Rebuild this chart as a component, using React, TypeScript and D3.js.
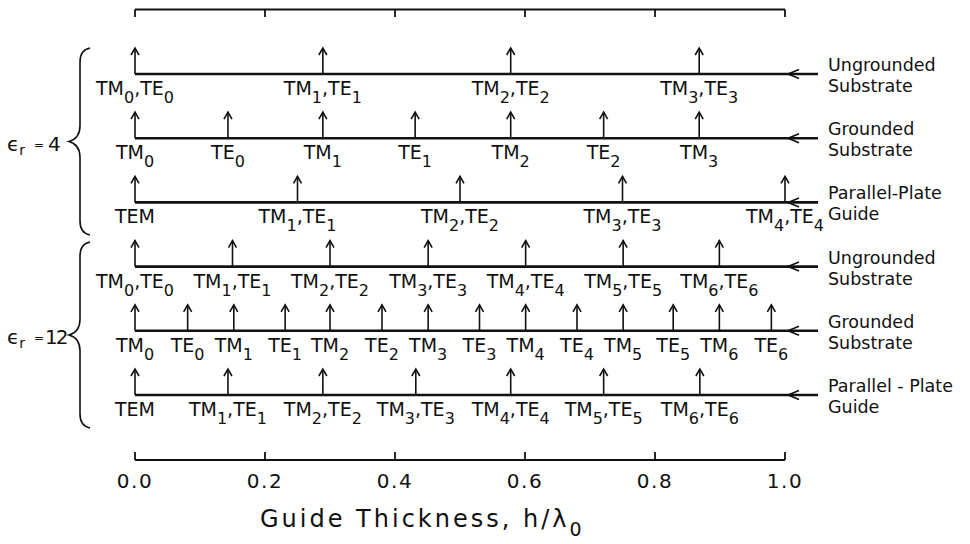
import React from "react";
import * as d3 from "d3";

// Thickness axis
const xTicks = [0, 0.2, 0.4, 0.6, 0.8, 1.0];
const xTickLabels = ["0.0", "0.2", "0.4", "0.6", "0.8", "1.0"];

// Cutoff thickness h/λ0 of each mode, εr = 4
const er4UngroundedCutoffs = [0, 0.289, 0.578, 0.868];
const er4UngroundedModes = ["TM_0,TE_0", "TM_1,TE_1", "TM_2,TE_2", "TM_3,TE_3"];
const er4GroundedCutoffs = [0, 0.143, 0.289, 0.431, 0.578, 0.721, 0.868];
const er4GroundedModes = ["TM_0", "TE_0", "TM_1", "TE_1", "TM_2", "TE_2", "TM_3"];
const er4ParallelCutoffs = [0, 0.25, 0.5, 0.75, 1.0];
const er4ParallelModes = ["TEM", "TM_1,TE_1", "TM_2,TE_2", "TM_3,TE_3", "TM_4,TE_4"];

// Cutoff thickness h/λ0 of each mode, εr = 12
const er12UngroundedCutoffs = [0, 0.15, 0.3, 0.451, 0.601, 0.751, 0.899];
const er12UngroundedModes = ["TM_0,TE_0", "TM_1,TE_1", "TM_2,TE_2", "TM_3,TE_3", "TM_4,TE_4", "TM_5,TE_5", "TM_6,TE_6"];
const er12GroundedCutoffs = [0, 0.081, 0.152, 0.231, 0.3, 0.38, 0.451, 0.53, 0.601, 0.68, 0.751, 0.828, 0.899, 0.979];
const er12GroundedModes = ["TM_0", "TE_0", "TM_1", "TE_1", "TM_2", "TE_2", "TM_3", "TE_3", "TM_4", "TE_4", "TM_5", "TE_5", "TM_6", "TE_6"];
const er12ParallelCutoffs = [0, 0.143, 0.289, 0.432, 0.578, 0.721, 0.869];
const er12ParallelModes = ["TEM", "TM_1,TE_1", "TM_2,TE_2", "TM_3,TE_3", "TM_4,TE_4", "TM_5,TE_5", "TM_6,TE_6"];

const guideNames = [
  ["Ungrounded", "Substrate"],
  ["Grounded", "Substrate"],
  ["Parallel-Plate", "Guide"],
  ["Ungrounded", "Substrate"],
  ["Grounded", "Substrate"],
  ["Parallel - Plate", "Guide"],
];

const permittivityValues = ["4", "12"];

const rows = [
  { cutoffs: er4UngroundedCutoffs, modes: er4UngroundedModes },
  { cutoffs: er4GroundedCutoffs, modes: er4GroundedModes },
  { cutoffs: er4ParallelCutoffs, modes: er4ParallelModes },
  { cutoffs: er12UngroundedCutoffs, modes: er12UngroundedModes },
  { cutoffs: er12GroundedCutoffs, modes: er12GroundedModes },
  { cutoffs: er12ParallelCutoffs, modes: er12ParallelModes },
];

const FONT = "'DejaVu Sans', sans-serif";
const INK = "#111";

const x = d3.scaleLinear().domain([0, 1]).range([135, 785]);
const y = d3.scaleLinear().domain([0, 5]).range([74, 395]);

const LINE_END = 818;
const ARROW_H = 26;

// Split "TM_0,TE_0" into normal / subscript pieces
function pieces(label: string) {
  const out: { t: string; sub: boolean }[] = [];
  const re = /_(\w)/g;
  let last = 0;
  let m: RegExpExecArray | null;
  while ((m = re.exec(label))) {
    if (m.index > last) out.push({ t: label.slice(last, m.index), sub: false });
    out.push({ t: m[1], sub: true });
    last = m.index + m[0].length;
  }
  if (last < label.length) out.push({ t: label.slice(last), sub: false });
  return out;
}

function ModeLabel({ label, cx, cy }: { label: string; cx: number; cy: number }) {
  let shift = 0;
  return (
    <text x={cx} y={cy} textAnchor="middle" fontFamily={FONT} fontSize={19} fill={INK}>
      {pieces(label).map((p, i) => {
        const target = p.sub ? 8 : 0;
        const dy = target - shift;
        shift = target;
        return (
          <tspan key={i} dy={dy} fontSize={p.sub ? 16 : 19}>
            {p.t}
          </tspan>
        );
      })}
    </text>
  );
}

function Brace({ x0, top, bottom }: { x0: number; top: number; bottom: number }) {
  const mid = (top + bottom) / 2;
  const p = d3.path();
  p.moveTo(x0 + 10, top);
  p.quadraticCurveTo(x0, top + 2, x0, top + 14);
  p.lineTo(x0, mid - 16);
  p.quadraticCurveTo(x0, mid - 3, x0 - 11, mid);
  p.quadraticCurveTo(x0, mid + 3, x0, mid + 16);
  p.lineTo(x0, bottom - 14);
  p.quadraticCurveTo(x0, bottom - 2, x0 + 10, bottom);
  return <path d={p.toString()} fill="none" stroke={INK} strokeWidth={1.6} />;
}

function PermittivityLabel({ value, baseline }: { value: string; baseline: number }) {
  const long = value.length > 1;
  return (
    <g fontFamily={FONT} fill={INK}>
      <text y={baseline} fontSize={20}>
        <tspan x={7}>ϵ</tspan>
        <tspan fontSize={14} dy={4}>r</tspan>
      </text>
      <text x={34} y={baseline - 2} fontSize={12}>=</text>
      <text x={long ? 45 : 48} y={baseline} fontSize={20} letterSpacing={long ? -2 : 0}>
        {value}
      </text>
    </g>
  );
}

export default function App() {
  return (
    <svg
      width={970}
      height={544}
      viewBox="0 0 970 544"
      style={{ position: "absolute", left: 0, top: 0, background: "#fff" }}
    >
      <rect width={970} height={544} fill="#fff" />

      {/* top scale bar */}
      <g stroke={INK} strokeWidth={1.8} fill="none">
        <line x1={x(0)} x2={x(1)} y1={9.5} y2={9.5} />
        {xTicks.map((t) => (
          <line key={t} x1={x(t)} x2={x(t)} y1={9.5} y2={17} />
        ))}
      </g>

      {/* mode rows */}
      {rows.map((row, ri) => {
        const yy = y(ri);
        return (
          <g key={ri}>
            <line x1={x(0)} x2={LINE_END} y1={yy} y2={yy} stroke={INK} strokeWidth={2.6} />
            <path
              d={`M${x(1) + 14},${yy - 4.5} L${x(1) + 3},${yy} L${x(1) + 14},${yy + 4.5}`}
              fill="none"
              stroke={INK}
              strokeWidth={1.6}
            />
            {row.cutoffs.map((c, ci) => {
              const cx = x(c);
              return (
                <g key={ci}>
                  <line x1={cx} x2={cx} y1={yy} y2={yy - ARROW_H} stroke={INK} strokeWidth={1.6} />
                  <path
                    d={`M${cx - 4},${yy - ARROW_H + 7} L${cx},${yy - ARROW_H} L${cx + 4},${yy - ARROW_H + 7}`}
                    fill="none"
                    stroke={INK}
                    strokeWidth={1.6}
                  />
                  <ModeLabel label={row.modes[ci]} cx={cx} cy={yy + 21} />
                </g>
              );
            })}
            <text fontFamily={FONT} fontSize={17.5} fill={INK}>
              <tspan x={828} y={yy - 3}>{guideNames[ri][0]}</tspan>
              <tspan x={828} y={yy + 18}>{guideNames[ri][1]}</tspan>
            </text>
          </g>
        );
      })}

      {/* dielectric constant groups */}
      <Brace x0={80} top={48} bottom={235} />
      <Brace x0={80} top={242} bottom={428} />
      <PermittivityLabel value={permittivityValues[0]} baseline={151} />
      <PermittivityLabel value={permittivityValues[1]} baseline={344} />

      {/* bottom axis */}
      <g stroke={INK} strokeWidth={1.8} fill="none">
        <line x1={x(0)} x2={x(1)} y1={460} y2={460} />
        {xTicks.map((t) => (
          <line key={t} x1={x(t)} x2={x(t)} y1={460} y2={452} />
        ))}
      </g>
      {xTicks.map((t, i) => (
        <text
          key={t}
          x={x(t)}
          y={488}
          textAnchor="middle"
          fontFamily={FONT}
          fontSize={20}
          letterSpacing={1.5}
          fill={INK}
        >
          {xTickLabels[i]}
        </text>
      ))}
      <text x={260} y={527} fontFamily={FONT} fontSize={24} fill={INK} letterSpacing={3}>
        Guide Thickness, h/λ
        <tspan fontSize={19} dy={9}>0</tspan>
      </text>
    </svg>
  );
}
